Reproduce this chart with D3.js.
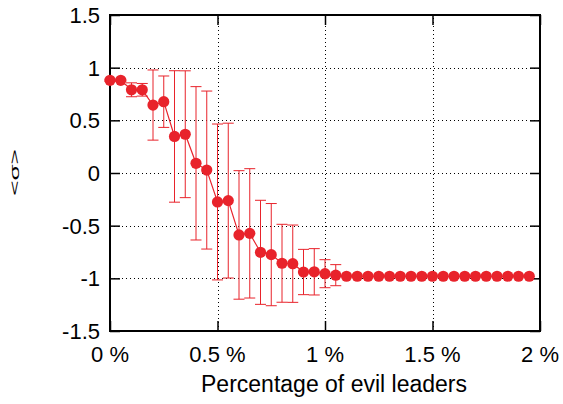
<!DOCTYPE html>
<html>
<head>
<meta charset="utf-8">
<script src="https://cdn.jsdelivr.net/npm/d3@7"></script>
<style>
  html, body { margin: 0; padding: 0; background: #fff; }
  svg { display: block; font-family: "Liberation Sans", Arial, Helvetica, sans-serif; }
</style>
</head>
<body>
<svg id="chart" width="563" height="404"></svg>
<script>
// Fraction of evil leaders (in %)
const percent = [0.00, 0.05, 0.10, 0.15, 0.20, 0.25, 0.30, 0.35, 0.40, 0.45,
                 0.50, 0.55, 0.60, 0.65, 0.70, 0.75, 0.80, 0.85, 0.90, 0.95,
                 1.00, 1.05, 1.10, 1.15, 1.20, 1.25, 1.30, 1.35, 1.40, 1.45,
                 1.50, 1.55, 1.60, 1.65, 1.70, 1.75, 1.80, 1.85, 1.90, 1.95];
// Mean order parameter <sigma>
const sigmaMean = [0.88, 0.88, 0.79, 0.79, 0.645, 0.677, 0.347, 0.368, 0.092, 0.028,
                   -0.275, -0.262, -0.588, -0.573, -0.753, -0.775, -0.857, -0.861, -0.94, -0.938,
                   -0.956, -0.97, -0.98, -0.98, -0.98, -0.98, -0.98, -0.98, -0.98, -0.98,
                   -0.98, -0.98, -0.98, -0.98, -0.98, -0.98, -0.98, -0.98, -0.98, -0.98];
// Standard deviation (half-length of error bars)
const sigmaErr = [0.01, 0.01, 0.066, 0.06, 0.333, 0.244, 0.624, 0.602, 0.728, 0.75,
                  0.74, 0.735, 0.61, 0.614, 0.494, 0.485, 0.37, 0.367, 0.215, 0.22,
                  0.133, 0.1, 0, 0, 0, 0, 0, 0, 0, 0,
                  0, 0, 0, 0, 0, 0, 0, 0, 0, 0];
const xTicks = [0, 0.5, 1, 1.5, 2];
const yTicks = [-1.5, -1, -0.5, 0, 0.5, 1, 1.5];

const red = "#e8232b";
const margin = { left: 110, right: 23, top: 15, bottom: 73 };
const W = 563, H = 404;
const svg = d3.select("#chart");

const x = d3.scaleLinear().domain([0, 2]).range([margin.left, W - margin.right]);
const y = d3.scaleLinear().domain([-1.5, 1.5]).range([H - margin.bottom, margin.top]);

const x0 = x.range()[0], x1 = x.range()[1], y0 = y.range()[0], y1 = y.range()[1];
const tickLen = 10;

// dotted grid
const grid = svg.append("g").attr("stroke", "#000").attr("stroke-width", 1)
  .attr("stroke-dasharray", "1,3");
grid.selectAll("line.gy").data(yTicks.filter(t => t > -1.5 && t < 1.5)).join("line")
  .attr("x1", x0).attr("x2", x1)
  .attr("y1", d => Math.round(y(d)) + 0.5).attr("y2", d => Math.round(y(d)) + 0.5);
grid.selectAll("line.gx").data(xTicks.filter(t => t > 0 && t < 2)).join("line")
  .attr("y1", y0).attr("y2", y1)
  .attr("x1", d => Math.round(x(d)) + 0.5).attr("x2", d => Math.round(x(d)) + 0.5);

// inward ticks on all four sides (labels drawn separately)
const axisLeft = d3.axisLeft(y).tickValues(yTicks).tickSize(-tickLen).tickFormat("");
const axisRight = d3.axisRight(y).tickValues(yTicks).tickSize(-tickLen).tickFormat("");
const axisBottom = d3.axisBottom(x).tickValues(xTicks).tickSize(-tickLen).tickFormat("");
const axisTop = d3.axisTop(x).tickValues(xTicks).tickSize(-tickLen).tickFormat("");

function styleAxis(g) {
  g.select(".domain").remove();
  g.selectAll(".tick line").attr("stroke", "#000").attr("stroke-width", 1.5);
  g.selectAll(".tick text").remove();
}
svg.append("g").attr("transform", `translate(${x0},0)`).call(axisLeft).call(styleAxis);
svg.append("g").attr("transform", `translate(${x1},0)`).call(axisRight).call(styleAxis);
svg.append("g").attr("transform", `translate(0,${y0})`).call(axisBottom).call(styleAxis);
svg.append("g").attr("transform", `translate(0,${y1})`).call(axisTop).call(styleAxis);

// tick labels
svg.append("g").selectAll("text").data(yTicks).join("text")
  .attr("x", x0 - 10).attr("y", d => y(d)).attr("dy", "0.36em")
  .attr("text-anchor", "end").attr("font-size", 22).attr("fill", "#000")
  .text(d => String(d));
svg.append("g").selectAll("text").data(xTicks).join("text")
  .attr("x", d => x(d)).attr("y", 361.5)
  .attr("text-anchor", "middle").attr("font-size", 22).attr("fill", "#000")
  .text(d => d + " %");

// frame
svg.append("rect").attr("x", x0).attr("y", y1).attr("width", x1 - x0).attr("height", y0 - y1)
  .attr("fill", "none").attr("stroke", "#000").attr("stroke-width", 2);

const data = percent.map((p, i) => ({ p, m: sigmaMean[i], e: sigmaErr[i] }));

// error bars
const eb = svg.append("g").attr("stroke", red).attr("stroke-width", 1);
const withErr = data.filter(d => d.e > 0);
eb.selectAll("line.v").data(withErr).join("line")
  .attr("x1", d => x(d.p)).attr("x2", d => x(d.p))
  .attr("y1", d => y(d.m + d.e)).attr("y2", d => y(d.m - d.e));
eb.selectAll("line.t").data(withErr).join("line")
  .attr("x1", d => x(d.p) - 5.5).attr("x2", d => x(d.p) + 5.5)
  .attr("y1", d => y(d.m + d.e)).attr("y2", d => y(d.m + d.e));
eb.selectAll("line.b").data(withErr).join("line")
  .attr("x1", d => x(d.p) - 5.5).attr("x2", d => x(d.p) + 5.5)
  .attr("y1", d => y(d.m - d.e)).attr("y2", d => y(d.m - d.e));

// connecting line
svg.append("path").datum(data)
  .attr("fill", "none").attr("stroke", red).attr("stroke-width", 1.2)
  .attr("d", d3.line().x(d => x(d.p)).y(d => y(d.m)));

// points
svg.append("g").selectAll("circle").data(data).join("circle")
  .attr("cx", d => x(d.p)).attr("cy", d => y(d.m)).attr("r", 5.6).attr("fill", red);

// axis titles
svg.append("text").attr("x", 334).attr("y", 391.5).attr("text-anchor", "middle")
  .attr("font-size", 23).attr("fill", "#000").text("Percentage of evil leaders");
svg.append("text").attr("transform", "translate(18.5,172.5) rotate(-90) scale(1,0.5)")
  .attr("text-anchor", "middle").attr("font-size", 26).attr("fill", "#000").text("<σ>");
</script>
</body>
</html>
